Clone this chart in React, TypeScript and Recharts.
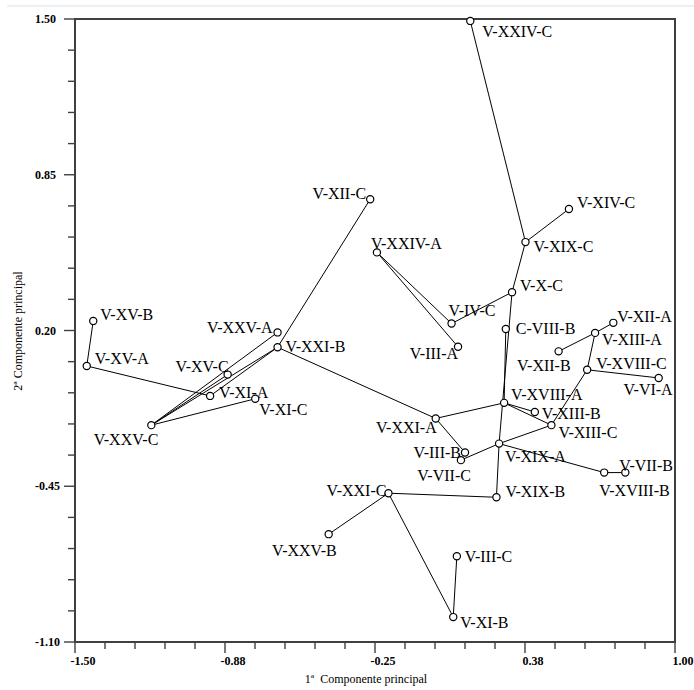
import { ScatterChart, Scatter, XAxis, YAxis, ReferenceArea } from "recharts";

// PCA scores of the samples (1st and 2nd principal components)
const pointNames = [
  "V-XXIV-C", "V-XII-C", "V-XIV-C", "V-XIX-C", "V-XXIV-A", "V-X-C",
  "V-IV-C", "C-VIII-B", "V-XII-A", "V-XIII-A", "V-III-A", "V-XV-B",
  "V-XXV-A", "V-XXI-B", "V-XV-A", "V-XV-C", "V-XI-A", "V-XI-C",
  "V-XXV-C", "V-XXV-B", "V-XII-B", "V-XVIII-C", "V-VI-A", "V-XVIII-A",
  "V-XIII-B", "V-XXI-A", "V-XIII-C", "V-XIX-A", "V-III-B", "V-VII-C",
  "V-XVIII-B", "V-VII-B", "V-XXI-C", "V-XIX-B", "V-III-C", "V-XI-B",
];
const pc1 = [
  0.147, -0.27, 0.558, 0.377, -0.242, 0.321,
  0.069, 0.295, 0.743, 0.667, 0.096, -1.424,
  -0.656, -0.656, -1.451, -0.864, -0.937, -0.749,
  -1.182, -0.443, 0.515, 0.634, 0.932, 0.288,
  0.416, 0.003, 0.485, 0.267, 0.125, 0.108,
  0.705, 0.793, -0.194, 0.256, 0.091, 0.076,
];
const pc2 = [
  1.492, 0.748, 0.707, 0.569, 0.526, 0.36,
  0.229, 0.206, 0.232, 0.19, 0.132, 0.24,
  0.192, 0.13, 0.052, 0.016, -0.073, -0.085,
  -0.195, -0.65, 0.113, 0.036, 0.002, -0.102,
  -0.14, -0.167, -0.195, -0.272, -0.309, -0.341,
  -0.393, -0.393, -0.479, -0.496, -0.742, -0.996,
];

// connections between samples
const links: [string, string][] = [
  ["V-XXIV-C", "V-XIX-C"], ["V-XIX-C", "V-XIV-C"], ["V-XIX-C", "V-X-C"],
  ["V-X-C", "V-IV-C"], ["V-IV-C", "V-XXIV-A"], ["V-XXIV-A", "V-III-A"],
  ["V-X-C", "V-XIX-A"], ["C-VIII-B", "V-XVIII-A"], ["V-XII-A", "V-XIII-A"],
  ["V-XIII-A", "V-XII-B"], ["V-XIII-A", "V-XVIII-C"], ["V-XVIII-C", "V-VI-A"],
  ["V-XVIII-C", "V-XIII-C"], ["V-XVIII-A", "V-XIII-C"], ["V-XVIII-A", "V-XIII-B"],
  ["V-XVIII-A", "V-XXI-A"], ["V-XXI-A", "V-XXI-B"], ["V-XXI-A", "V-III-B"],
  ["V-VII-C", "V-XIX-A"], ["V-XIX-A", "V-XIII-C"], ["V-XIX-A", "V-XVIII-B"],
  ["V-XVIII-B", "V-VII-B"], ["V-XIX-A", "V-XIX-B"], ["V-XIX-B", "V-XXI-C"],
  ["V-XXI-C", "V-XI-B"], ["V-XI-B", "V-III-C"], ["V-XXI-C", "V-XXV-B"],
  ["V-XXI-B", "V-XII-C"], ["V-XXV-C", "V-XXI-B"], ["V-XXV-C", "V-XXV-A"],
  ["V-XXV-C", "V-XV-C"], ["V-XXV-C", "V-XI-C"], ["V-XI-A", "V-XXI-B"],
  ["V-XV-A", "V-XI-A"], ["V-XV-A", "V-XV-B"],
];

const xTicks = [
  -1.5, -1.375, -1.25, -1.125, -1, -0.875, -0.75, -0.625, -0.5, -0.375, -0.25,
  -0.125, 0, 0.125, 0.25, 0.375, 0.5, 0.625, 0.75, 0.875, 1,
];
const xMajor = [-1.5, -0.875, -0.25, 0.375, 1];
const yTicks = [
  1.5, 1.37, 1.24, 1.11, 0.98, 0.85, 0.72, 0.59, 0.46, 0.33, 0.2,
  0.07, -0.06, -0.19, -0.32, -0.45, -0.58, -0.71, -0.84, -0.97, -1.1,
];
const yMajor = [1.5, 0.85, 0.2, -0.45, -1.1];

// label offset from the marker: dx, dy (baseline), anchor
const labelPos: Record<string, [number, number, "start" | "end"]> = {
  "V-XXIV-C": [12, 16, "start"],
  "V-XII-C": [-4, 0, "end"],
  "V-XIV-C": [8, -1, "start"],
  "V-XIX-C": [8, 10, "start"],
  "V-XXIV-A": [-6, -3, "start"],
  "V-X-C": [8, -1, "start"],
  "V-IV-C": [-3, -8, "start"],
  "C-VIII-B": [10, 5, "start"],
  "V-XII-A": [4, -1, "start"],
  "V-XIII-A": [7, 12, "start"],
  "V-III-A": [0, 12, "end"],
  "V-XV-B": [7, -1, "start"],
  "V-XXV-A": [-5, 1, "end"],
  "V-XXI-B": [8, 5, "start"],
  "V-XV-A": [8, -2, "start"],
  "V-XV-C": [1, -3, "end"],
  "V-XI-A": [9, 2, "start"],
  "V-XI-C": [4, 16, "start"],
  "V-XXV-C": [7, 20, "end"],
  "V-XXV-B": [8, 22, "end"],
  "V-XII-B": [12, 20, "end"],
  "V-XVIII-C": [9, -1, "start"],
  "V-VI-A": [14, 17, "end"],
  "V-XVIII-A": [7, -3, "start"],
  "V-XIII-B": [7, 7, "start"],
  "V-XXI-A": [1, 15, "end"],
  "V-XIII-C": [7, 13, "start"],
  "V-XIX-A": [6, 18, "start"],
  "V-III-B": [-4, 6, "end"],
  "V-VII-C": [10, 21, "end"],
  "V-XVIII-B": [-5, 23, "start"],
  "V-VII-B": [-6, -2, "start"],
  "V-XXI-C": [-2, 3, "end"],
  "V-XIX-B": [9, 0, "start"],
  "V-III-C": [8, 6, "start"],
  "V-XI-B": [7, 11, "start"],
};

const points = pointNames.map((name, i) => ({ name, x: pc1[i], y: pc2[i] }));
const byName: Record<string, { name: string; x: number; y: number }> = {};
points.forEach((p) => (byName[p.name] = p));

const SERIF = '"Liberation Serif", "Times New Roman", serif';
const AXIS = "#404040";
const isMajor = (list: number[], v: number) => list.some((m) => Math.abs(m - v) < 1e-9);

function XTick(props: any) {
  const { x, payload } = props;
  const major = isMajor(xMajor, payload.value);
  return (
    <g>
      <line x1={x} x2={x} y1={642} y2={major ? 653 : 649} stroke={AXIS} strokeWidth={1.4} />
      {major && (
        <text x={x + 8} y={665} textAnchor="middle" fontFamily={SERIF} fontSize={12} fontWeight="bold" fill="#000">
          {payload.value.toFixed(2)}
        </text>
      )}
    </g>
  );
}

function YTick(props: any) {
  const { y, payload } = props;
  const major = isMajor(yMajor, payload.value);
  return (
    <g>
      <line x1={major ? 64 : 68} x2={75} y1={y} y2={y} stroke={AXIS} strokeWidth={1.4} />
      {major && (
        <text x={35} y={y + 4} textAnchor="start" fontFamily={SERIF} fontSize={12} fontWeight="bold" fill="#000">
          {payload.value.toFixed(2)}
        </text>
      )}
    </g>
  );
}

function Marker(props: any) {
  const { cx, cy, payload } = props;
  const [dx, dy, anchor] = labelPos[payload.name] ?? [8, 0, "start"];
  return (
    <g>
      <circle cx={cx} cy={cy} r={3.6} fill="#fff" stroke="#000" strokeWidth={1.2} />
      <text x={cx + dx} y={cy + dy} textAnchor={anchor} fontFamily={SERIF} fontSize={16} fill="#000">
        {payload.name}
      </text>
    </g>
  );
}

export default function App() {
  return (
    <div style={{ position: "fixed", left: 0, top: 0, width: 694, height: 690, background: "#fff" }}>
      <ScatterChart width={694} height={690} margin={{ top: 19, right: 19, bottom: 18, left: 0 }}>
        <XAxis
          type="number"
          dataKey="x"
          domain={[-1.5, 1]}
          ticks={xTicks}
          interval={0}
          height={30}
          axisLine={false}
          tickLine={false}
          tick={XTick}
        />
        <YAxis
          type="number"
          dataKey="y"
          domain={[-1.1, 1.5]}
          ticks={yTicks}
          interval={0}
          width={75}
          axisLine={false}
          tickLine={false}
          tick={YTick}
        />
        <ReferenceArea x1={-1.5} x2={1} y1={-1.1} y2={1.5} fill="none" stroke={AXIS} strokeWidth={2} />
        {links.map(([a, b]) => (
          <Scatter
            key={a + b}
            data={[byName[a], byName[b]]}
            line={{ stroke: "#000", strokeWidth: 1 }}
            shape={() => <g />}
            isAnimationActive={false}
          />
        ))}
        <Scatter data={points} shape={Marker} isAnimationActive={false} />
      </ScatterChart>
      <svg
        width={694}
        height={690}
        style={{ position: "absolute", left: 0, top: 0, pointerEvents: "none" }}
      >
        <line x1={7} x2={694} y1={6} y2={6} stroke="#e6ecf3" strokeWidth={1.5} />
        <text x={366} y={683} textAnchor="middle" fontFamily={SERIF} fontSize={12} fill="#000" style={{ whiteSpace: "pre" }}>
          1ª  Componente principal
        </text>
        <text
          transform="translate(21.5,331) rotate(-90)"
          textAnchor="middle"
          fontFamily={SERIF}
          fontSize={12}
          fill="#000"
          style={{ whiteSpace: "pre" }}
        >
          2ª Componente principal
        </text>
      </svg>
    </div>
  );
}
